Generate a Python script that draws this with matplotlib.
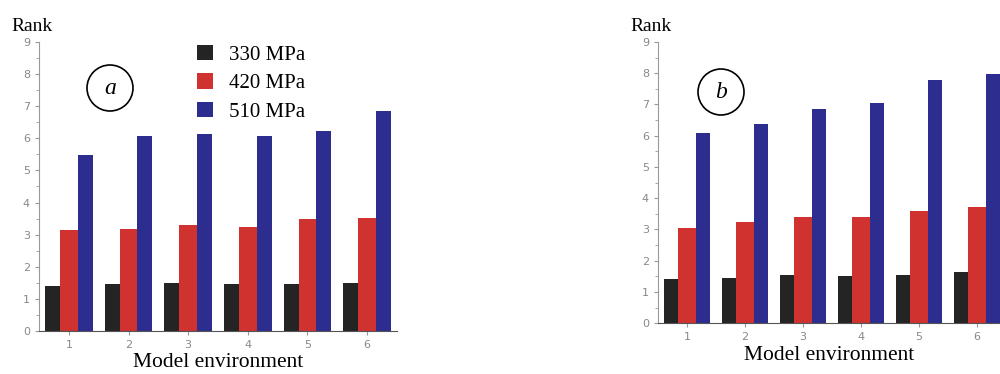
import matplotlib
matplotlib.use("AGG")
import matplotlib.pyplot as plt
import numpy as np
from matplotlib.patches import Ellipse
from matplotlib.ticker import MultipleLocator

envs = [1, 2, 3, 4, 5, 6]
labels = ["330 MPa", "420 MPa", "510 MPa"]
colors = ["#242424", "#d0332f", "#2d2d8f"]

# panel a
a_330 = [1.41, 1.45, 1.48, 1.47, 1.47, 1.49]
a_420 = [3.15, 3.18, 3.30, 3.24, 3.48, 3.52]
a_510 = [5.48, 6.07, 6.13, 6.07, 6.23, 6.85]
# panel b
b_330 = [1.41, 1.43, 1.54, 1.51, 1.54, 1.65]
b_420 = [3.05, 3.23, 3.41, 3.41, 3.60, 3.71]
b_510 = [6.09, 6.38, 6.86, 7.05, 7.79, 7.98]

serif = "Liberation Serif"
fig = plt.figure(figsize=(10, 3.74), dpi=100)
ax_a = fig.add_axes([0.039, 0.115, 0.358, 0.773])
ax_b = fig.add_axes([0.658, 0.136, 0.342, 0.752])

widths = [0.25, 0.30, 0.25]
offsets = [-0.275, 0.0, 0.275]
x = np.array(envs)

def draw(ax, series, xmax, tag, tagpos):
    for i, vals in enumerate(series):
        ax.bar(x + offsets[i], vals, widths[i], color=colors[i], label=labels[i], zorder=2)
    ax.set_xlim(0.5, xmax)
    ax.set_ylim(0, 9)
    ax.set_xticks(envs)
    ax.set_yticks(range(10))
    ax.yaxis.set_minor_locator(MultipleLocator(0.5))
    for s in ["top", "right"]:
        ax.spines[s].set_visible(False)
    ax.spines["left"].set_color("#999999")
    ax.spines["bottom"].set_color("#555555")
    ax.tick_params(axis="both", labelsize=8, colors="#999999", labelcolor="#888888", length=3)
    ax.tick_params(axis="y", which="minor", length=2, colors="#999999")
    ax.set_xlabel("Model environment", fontfamily=serif, fontsize=15.5, labelpad=2.5)
    ax.text(-0.02, 1.025, "Rank", transform=ax.transAxes, fontfamily=serif, fontsize=14,
            ha="center", va="bottom")
    # circled panel letter
    ax.add_patch(Ellipse(tagpos, 46 / 1000, 46 / 374, transform=fig.transFigure,
                         fill=False, lw=1.2, ec="black", clip_on=False))
    fig.text(tagpos[0], tagpos[1], tag, fontfamily=serif, style="italic", fontsize=17,
             ha="center", va="center")

draw(ax_a, [a_330, a_420, a_510], 6.5, "a", (0.110, 1 - 88 / 374))
draw(ax_b, [b_330, b_420, b_510], 6.4, "b", (0.721, 1 - 92 / 374))

ax_a.legend(loc="upper left", bbox_to_anchor=(0.39, 1.055), frameon=False,
            prop={"family": serif, "size": 15}, handlelength=0.75, handleheight=0.75,
            handletextpad=0.75, labelspacing=0.42)

fig.savefig("out.png", dpi=100)
